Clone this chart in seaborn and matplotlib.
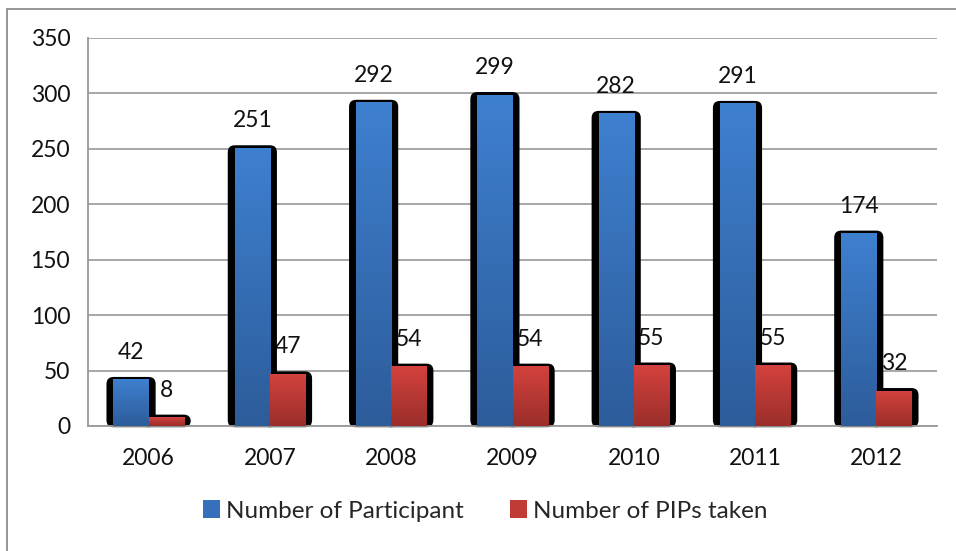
import numpy as np
import pandas as pd
import matplotlib
matplotlib.use("Agg")
import matplotlib.pyplot as plt
import seaborn as sns
from matplotlib.patches import FancyBboxPatch, Rectangle, Patch
from matplotlib.colors import LinearSegmentedColormap

years = ["2006", "2007", "2008", "2009", "2010", "2011", "2012"]
participants = [42, 251, 292, 299, 282, 291, 174]
pips = [8, 47, 54, 54, 55, 55, 32]
series = ["Number of Participant", "Number of PIPs taken"]

df = pd.DataFrame({
    "year": years * 2,
    "value": participants + pips,
    "series": [series[0]] * len(years) + [series[1]] * len(years),
})

sns.set_style("white")
plt.rcParams["font.family"] = ["Lato", "DejaVu Sans"]

W, H = 956, 551
fig = plt.figure(figsize=(W / 100, H / 100), dpi=100)
ax = fig.add_axes([88 / W, (H - 426) / H, (937 - 88) / W, (426 - 38) / H])

blue_top, blue_bot = "#3E80D0", "#2D5C9A"
red_top, red_bot = "#D4423E", "#9A2E2A"

sns.barplot(data=df, x="year", y="value", hue="series", order=years,
            hue_order=series, palette=[blue_top, red_top], width=0.58,
            ax=ax, legend=False, saturation=1)

ax.set_xlim(-0.5, 6.5)
ax.set_ylim(0, 350)

# px -> data conversions
px_x = 7.0 / (937 - 88)
px_y = 350.0 / (426 - 38)
aspect = px_y / px_x

cmaps = [LinearSegmentedColormap.from_list("b", [blue_top, blue_bot]),
         LinearSegmentedColormap.from_list("r", [red_top, red_bot])]
grad = np.linspace(0, 1, 256).reshape(-1, 1)

bars = list(ax.patches)
n = len(years)
for i, p in enumerate(bars):
    s = 0 if i < n else 1
    x, w, h = p.get_x(), p.get_width(), p.get_height()
    padx = 7 * px_x
    pady = 2.5 * px_y
    shadow = FancyBboxPatch((x - padx, -1.2 * px_y), w + 2 * padx, h + pady + 1.2 * px_y,
                            boxstyle="round,pad=0,rounding_size=%f" % (7 * px_x),
                            mutation_aspect=aspect, facecolor="black",
                            edgecolor="none", zorder=2.5, clip_on=False)
    ax.add_patch(shadow)
    p.set_facecolor("none")
    p.set_edgecolor("none")
    im = ax.imshow(grad, extent=[x, x + w, 0, h], aspect="auto", cmap=cmaps[s],
                   origin="upper", zorder=3, interpolation="bilinear")
    im.set_clip_path(p)
    ax.annotate(str(int(round(h))), (x + w / 2, h), xytext=(0, 27),
                textcoords="offset pixels", ha="center", va="center",
                fontsize=16.5, color="#111111", zorder=2)

ax.set_xlim(-0.5, 6.5)
ax.set_ylim(0, 350)
ax.set_yticks(np.arange(0, 351, 50))
ax.yaxis.grid(True, color="#A0A0A0", linewidth=1.3, zorder=0)
ax.set_axisbelow(True)
ax.set_xlabel("")
ax.set_ylabel("")
for side in ["top", "right"]:
    ax.spines[side].set_visible(False)
for side in ["left", "bottom"]:
    ax.spines[side].set_color("#999999")
    ax.spines[side].set_linewidth(1.3)

ax.set_xticks(range(len(years)))
ax.set_xticklabels(years)
ax.set_xticks(np.arange(-0.5, 6.6, 1), minor=True)
ax.tick_params(axis="x", which="major", length=0, pad=16, labelsize=16.5, colors="#111111")
ax.tick_params(axis="x", which="minor", length=4.5, width=1.3, color="#999999", direction="out")
ax.tick_params(axis="y", length=5.8, width=1.3, color="#999999", pad=7, labelsize=16.5,
               labelcolor="#111111", direction="out")

handles = [Patch(facecolor="#3670BA", edgecolor="none"),
           Patch(facecolor="#C03A36", edgecolor="none")]
fig.legend(handles, series, loc="center", bbox_to_anchor=(485 / W, (H - 511) / H),
           ncol=2, frameon=False, fontsize=17.5, handlelength=0.7, handleheight=0.7,
           handletextpad=0.25, columnspacing=1.9)

fig.patches.append(Rectangle((6.5 / W, -0.1), 1.2, (H - 9) / H + 0.1,
                             transform=fig.transFigure, fill=False,
                             edgecolor="#8C8C8C", linewidth=1.3))

fig.savefig("out.png", dpi=100)
